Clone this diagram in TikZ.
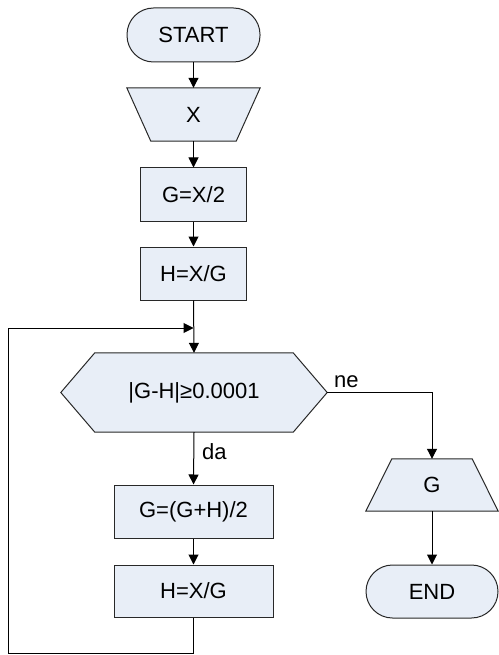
\documentclass[tikz,border=0pt]{standalone}
\usepackage{fontspec}
\setmainfont{Liberation Sans}
\usetikzlibrary{arrows.meta,backgrounds}
\definecolor{boxfill}{RGB}{232,238,247}
\definecolor{boxline}{RGB}{40,40,40}
\begin{document}
\begin{tikzpicture}[x=1pt,y=-1pt,
  every node/.style={font=\fontsize{22}{26}\selectfont, inner sep=0pt},
  procbox/.style={rectangle, draw=boxline, fill=boxfill, line width=1pt, minimum height=53pt},
  termbox/.style={rectangle, rounded corners=26.5pt, draw=boxline, fill=boxfill, line width=1pt, minimum width=133pt, minimum height=54pt},
  ghost/.style={rectangle, draw=none, fill=none},
  shapefill/.style={draw=boxline, fill=boxfill, line width=1pt, line join=miter},
  flow/.style={line width=1pt, -{Triangle[length=10pt,width=10pt]}},
  lbl/.style={anchor=base west}
]
\useasboundingbox (0,0) rectangle (498,655);

\node[termbox] (start) at (193.5,35) {START};
\node[ghost, minimum width=133pt, minimum height=53pt] (x) at (193.5,114.5) {X};
\node[procbox, minimum width=106pt] (g1) at (193.5,194.5) {G=X/2};
\node[procbox, minimum width=106pt] (h1) at (193.5,273.5) {H=X/G};
\node[ghost, minimum width=266pt, minimum height=79pt] (cond) at (194,392.5) {|G-H|≥0.0001};
\node[procbox, minimum width=159pt] (g2) at (193.5,511.5) {G=(G+H)/2};
\node[procbox, minimum width=159pt, minimum height=52pt] (h2) at (193.5,591) {H=X/G};
\node[ghost, minimum width=132pt, minimum height=52pt] (gout) at (432,485) {G};
\node[termbox, minimum width=132pt, minimum height=53pt] (end) at (432,591.5) {END};

\begin{scope}[on background layer]
\draw[shapefill] (x.north west) -- (x.north east) -- ([xshift=-24pt]x.south east) -- ([xshift=24pt]x.south west) -- cycle;
\draw[shapefill] (cond.west) -- ([xshift=34pt]cond.north west) -- ([xshift=-34pt]cond.north east) -- (cond.east) -- ([xshift=-34pt]cond.south east) -- ([xshift=34pt]cond.south west) -- cycle;
\draw[shapefill] ([xshift=26pt]gout.north west) -- ([xshift=-26pt]gout.north east) -- (gout.south east) -- (gout.south west) -- cycle;
\end{scope}

\coordinate (join) at (193.5,328);
\coordinate (bl) at (8,653);
\coordinate (tl) at (8,328);

\draw[flow] (start.south) -- (x.north);
\draw[flow] (x.south) -- (g1.north);
\draw[flow] (g1.south) -- (h1.north);
\draw[flow] (h1.south) -- (cond.north);
\draw[flow] (cond.south) -- (g2.north);
\draw[flow] (g2.south) -- (h2.north);
\draw[flow] (h2.south) |- (bl) -- (tl) -- (join);
\draw[flow] (cond.east) -| (gout.north);
\draw[flow] (gout.south) -- (end.north);

\node[lbl] (ne) at (334,387) {ne};
\node[lbl] (da) at (202,459) {da};
\end{tikzpicture}
\end{document}
